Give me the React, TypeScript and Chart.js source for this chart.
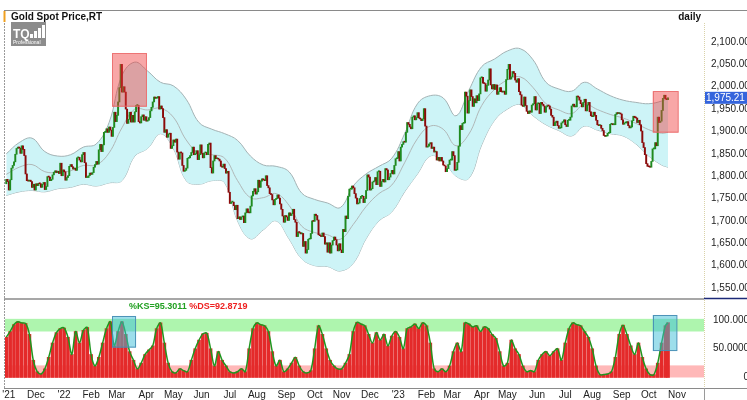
import { useEffect, useRef } from "react";
import { Chart, registerables } from "chart.js";

Chart.register(...registerables);

// ---------- data ----------
const monthLabels = ["'21", "Dec", "'22", "Feb", "Mar", "Apr", "May", "Jun", "Jul", "Aug", "Sep", "Oct", "Nov", "Dec", "'23", "Feb", "Mar", "Apr", "May", "Jun", "Jul", "Aug", "Sep", "Oct", "Nov"];
const monthStarts = [0, 21, 43, 64, 84, 107, 128, 150, 172, 193, 216, 238, 259, 281, 303, 325, 345, 368, 388, 411, 433, 454, 477, 498, 520];

const firstOpen = 1783;
const closesNov21 = [1793, 1788, 1769, 1792, 1818, 1824, 1832, 1849, 1862, 1865, 1863, 1851, 1868, 1860, 1846, 1805, 1790, 1789, 1791, 1788, 1775];
const closesDec21 = [1782, 1769, 1783, 1779, 1784, 1783, 1775, 1782, 1786, 1770, 1777, 1799, 1798, 1790, 1793, 1803, 1809, 1812, 1808, 1811, 1806, 1829];
const closesJan22 = [1801, 1814, 1810, 1791, 1797, 1801, 1822, 1826, 1821, 1816, 1818, 1813, 1841, 1842, 1836, 1832, 1848, 1853, 1830, 1797, 1797];
const closesFeb22 = [1801, 1807, 1804, 1808, 1820, 1826, 1833, 1827, 1859, 1871, 1855, 1870, 1898, 1898, 1906, 1898, 1910, 1903, 1889, 1909];
const closesMar22 = [1943, 1922, 1936, 1966, 1998, 2050, 1988, 2000, 1988, 1950, 1918, 1927, 1943, 1921, 1936, 1921, 1944, 1958, 1958, 1922, 1919, 1933, 1937];
const closesApr22 = [1925, 1933, 1923, 1925, 1931, 1946, 1954, 1966, 1977, 1974, 1975, 1978, 1950, 1957, 1951, 1931, 1898, 1904, 1887, 1894, 1896];
const closesMay22 = [1862, 1868, 1881, 1876, 1883, 1854, 1838, 1853, 1852, 1824, 1811, 1813, 1818, 1840, 1841, 1846, 1853, 1865, 1848, 1850, 1857, 1837];
const closesJun22 = [1848, 1870, 1851, 1841, 1852, 1853, 1848, 1871, 1874, 1819, 1807, 1834, 1846, 1839, 1840, 1838, 1834, 1822, 1820, 1827, 1817, 1807];
const closesJul22 = [1811, 1764, 1739, 1742, 1742, 1734, 1725, 1735, 1705, 1709, 1703, 1709, 1711, 1696, 1718, 1727, 1719, 1718, 1733, 1756, 1766];
const closesAug22 = [1772, 1760, 1765, 1791, 1775, 1789, 1794, 1792, 1790, 1801, 1779, 1774, 1761, 1759, 1747, 1736, 1748, 1750, 1758, 1751, 1738, 1726, 1711];
const closesSep22 = [1697, 1712, 1709, 1701, 1718, 1712, 1716, 1726, 1703, 1697, 1665, 1675, 1674, 1671, 1672, 1643, 1654, 1628, 1636, 1659, 1660, 1672];
const closesOct22 = [1700, 1699, 1715, 1712, 1702, 1669, 1667, 1665, 1673, 1665, 1648, 1651, 1630, 1651, 1628, 1646, 1656, 1664, 1658, 1646, 1633];
const closesNov22 = [1649, 1635, 1629, 1681, 1676, 1711, 1705, 1755, 1771, 1771, 1778, 1774, 1761, 1751, 1738, 1740, 1750, 1755, 1755, 1741, 1750, 1768];
const closesDec22 = [1803, 1798, 1769, 1772, 1787, 1789, 1797, 1781, 1810, 1811, 1777, 1788, 1793, 1787, 1817, 1814, 1792, 1798, 1806, 1813, 1805, 1824];
const closesJan23 = [1839, 1840, 1855, 1834, 1865, 1871, 1877, 1876, 1898, 1920, 1916, 1910, 1906, 1932, 1935, 1926, 1931, 1942, 1930, 1928, 1924, 1928];
const closesFeb23 = [1951, 1912, 1865, 1867, 1872, 1875, 1862, 1865, 1854, 1855, 1836, 1842, 1834, 1842, 1834, 1825, 1823, 1810, 1817, 1826];
const closesMar23 = [1836, 1836, 1855, 1846, 1813, 1814, 1831, 1867, 1913, 1904, 1918, 1919, 1988, 1979, 1941, 1969, 1993, 1978, 1956, 1973, 1964, 1980, 1969];
const closesApr23 = [1984, 2020, 2021, 2008, 2007, 1990, 2003, 2015, 2040, 2004, 1995, 2005, 1994, 2004, 1983, 1989, 1998, 1989, 1988, 1990];
const closesMay23 = [1983, 2016, 2039, 2050, 2017, 2022, 2034, 2030, 2015, 2010, 2018, 1989, 1982, 1959, 1956, 1977, 1958, 1945, 1940, 1946, 1943, 1959, 1962];
const closesJun23 = [1978, 1948, 1962, 1963, 1940, 1965, 1961, 1957, 1943, 1955, 1958, 1957, 1950, 1936, 1932, 1913, 1920, 1923, 1913, 1907, 1908, 1919];
const closesJul23 = [1922, 1926, 1915, 1911, 1925, 1925, 1932, 1957, 1961, 1955, 1955, 1979, 1977, 1970, 1962, 1955, 1965, 1972, 1946, 1959, 1965];
const closesAug23 = [1944, 1935, 1933, 1943, 1936, 1925, 1915, 1913, 1914, 1907, 1902, 1891, 1889, 1890, 1896, 1897, 1916, 1916, 1915, 1915, 1938, 1942, 1940];
const closesSep23 = [1940, 1939, 1926, 1916, 1919, 1919, 1922, 1913, 1908, 1910, 1924, 1934, 1931, 1930, 1920, 1925, 1915, 1901, 1875, 1864, 1848];
const closesOct23 = [1828, 1822, 1821, 1820, 1833, 1861, 1861, 1875, 1868, 1932, 1920, 1923, 1947, 1974, 1981, 1973, 1971, 1975.21];

const monthlyCloses = [closesNov21, closesDec21, closesJan22, closesFeb22, closesMar22, closesApr22, closesMay22, closesJun22, closesJul22, closesAug22, closesSep22, closesOct22, closesNov22, closesDec22, closesJan23, closesFeb23, closesMar23, closesApr23, closesMay23, closesJun23, closesJul23, closesAug23, closesSep23, closesOct23];

// envelope band (read every 10 trading days)
const bandIdx = [0, 10, 20, 30, 40, 50, 60, 70, 80, 90, 100, 110, 120, 130, 140, 150, 160, 170, 180, 190, 200, 210, 220, 230, 240, 250, 260, 270, 280, 290, 300, 310, 320, 330, 340, 350, 360, 370, 380, 390, 400, 410, 420, 430, 440, 450, 460, 470, 480, 490, 500, 510, 515];
const bandUpper = [1850, 1875, 1885, 1855, 1845, 1848, 1865, 1872, 1920, 2025, 2055, 2035, 2010, 2002, 1972, 1920, 1905, 1895, 1880, 1845, 1825, 1822, 1810, 1762, 1748, 1740, 1730, 1778, 1805, 1822, 1840, 1895, 1962, 1980, 1975, 1935, 1992, 2045, 2062, 2080, 2085, 2060, 2010, 1995, 1990, 2010, 1995, 1980, 1970, 1965, 1962, 1968, 1975];
const bandLower = [1757, 1765, 1768, 1765, 1772, 1775, 1782, 1778, 1785, 1790, 1845, 1862, 1895, 1862, 1790, 1782, 1790, 1785, 1700, 1660, 1680, 1700, 1660, 1615, 1600, 1598, 1588, 1605, 1660, 1700, 1720, 1765, 1805, 1845, 1835, 1800, 1795, 1870, 1925, 1950, 1960, 1935, 1915, 1902, 1890, 1912, 1903, 1895, 1890, 1872, 1845, 1825, 1820];
const bandMiddle = [1804, 1820, 1826, 1810, 1808, 1812, 1824, 1825, 1852, 1908, 1950, 1948, 1952, 1932, 1881, 1851, 1848, 1840, 1790, 1752, 1752, 1761, 1735, 1688, 1674, 1669, 1659, 1692, 1732, 1761, 1780, 1830, 1884, 1912, 1905, 1868, 1894, 1958, 1994, 2015, 2022, 1998, 1962, 1948, 1940, 1961, 1949, 1938, 1930, 1918, 1904, 1896, 1898];

// slow stochastic (read every 3 trading days)
const stochValues = [
  70, 80, 92, 97, 95, 94, 75, 30, 10, 6,
  15, 35, 60, 78, 85, 86, 70, 40, 80, 60,
  82, 87, 40, 20, 35, 60, 85, 97, 55, 80,
  97, 75, 45, 30, 15, 25, 40, 48, 55, 85,
  95, 60, 25, 10, 8, 15, 12, 10, 30, 50,
  65, 76, 77, 50, 20, 45, 30, 20, 10, 8,
  10, 15, 10, 50, 85, 95, 92, 90, 80, 45,
  20, 30, 10, 15, 25, 35, 20, 10, 8, 12,
  50, 90, 75, 50, 30, 20, 15, 15, 25, 40,
  80, 96, 93, 90, 75, 60, 78, 65, 75, 55,
  72, 80, 70, 50, 85, 88, 93, 85, 95, 90,
  60, 15, 10, 15, 10, 20, 45, 60, 45, 95,
  93, 88, 90, 80, 88, 85, 75, 68, 45, 20,
  25, 65, 50, 40, 20, 10, 12, 10, 30, 40,
  45, 38, 45, 50, 30, 60, 85, 95, 92, 90,
  80, 70, 50, 20, 5, 5, 6, 10, 35, 75,
  91, 75, 55, 40, 60, 35, 15, 5, 5, 25,
  60, 90, 95.3,
];
const stochStep = 3;

const priceTicks = [1550, 1600, 1650, 1700, 1750, 1800, 1850, 1900, 1950, 2000, 2050, 2100];
const stochTicks = [0, 50, 100];
const stochHighZone = [80, 102];
const stochLowZone = [0, 21];
const lastPrice = 1975.21;
const kText = "%KS=95.3011";
const dText = "%DS=92.8719";

const priceBoxes = [
  { from: 82.3, to: 109.5, low: 1955, high: 2075 },
  { from: 503, to: 523, low: 1897, high: 1990 },
];
const stochBoxes = [
  { from: 82.3, to: 101, low: 52, high: 107 },
  { from: 503, to: 522, low: 46, high: 108.7 },
];

const FONT = "'Liberation Sans', Arial, sans-serif";
const UP = "#1f8a1f";
const DOWN = "#8b0a0a";

const decor = {
  id: "decor",
  beforeDatasetsDraw(chart: any) {
    const { ctx, chartArea: a, scales } = chart;
    const y2 = scales.y2;
    ctx.save();
    const zone = (lo: number, hi: number, color: string) => {
      const t = y2.getPixelForValue(hi);
      const b = y2.getPixelForValue(lo);
      ctx.fillStyle = color;
      ctx.fillRect(a.left, t, a.right - a.left, b - t);
    };
    zone(stochHighZone[0], stochHighZone[1], "#aef5ae");
    zone(stochLowZone[0], stochLowZone[1], "#ffb8b8");
    ctx.restore();
  },
  afterDatasetsDraw(chart: any) {
    const { ctx, scales } = chart;
    const xs = scales.x;
    ctx.save();
    const box = (ys: any, b: any, fill: string, stroke: string) => {
      const l = xs.getPixelForValue(b.from);
      const r = xs.getPixelForValue(b.to);
      const t = ys.getPixelForValue(b.high);
      const bt = ys.getPixelForValue(b.low);
      ctx.fillStyle = fill;
      ctx.fillRect(l, t, r - l, bt - t);
      ctx.strokeStyle = stroke;
      ctx.lineWidth = 1;
      ctx.strokeRect(Math.round(l) + 0.5, Math.round(t) + 0.5, r - l - 1, bt - t - 1);
    };
    priceBoxes.forEach((b) => box(scales.y, b, "rgba(240,60,60,0.45)", "rgba(235,110,110,0.9)"));
    stochBoxes.forEach((b) => box(scales.y2, b, "rgba(60,190,215,0.5)", "rgba(70,140,180,0.9)"));
    ctx.restore();
  },
  afterDraw(chart: any) {
    const { ctx, chartArea: a, scales } = chart;
    ctx.save();
    const line = (x1: number, y1: number, x2: number, y2: number, color: string, w = 1, dash: number[] = []) => {
      ctx.beginPath();
      ctx.setLineDash(dash);
      ctx.strokeStyle = color;
      ctx.lineWidth = w;
      ctx.moveTo(x1, y1);
      ctx.lineTo(x2, y2);
      ctx.stroke();
      ctx.setLineDash([]);
    };
    const sep = scales.y.bottom;
    line(4, 10.5, 760, 10.5, "#8a8a8a");
    line(4.5, 11, 4.5, a.bottom, "#9a9a9a", 1, [2, 1]);
    line(4.5, 11, 4.5, 22, "#f0a020", 2);
    line(4, sep, a.right, sep, "#8a8a8a", 1.5);
    line(a.right + 0.5, 23, a.right + 0.5, sep - 1, "#d9d2a8", 1, [1, 1]);
    line(a.right + 0.5, sep + 1, a.right + 0.5, a.bottom, "#d9d2a8", 1, [1, 1]);
    line(a.right, sep - 0.5, 760, sep - 0.5, "#1c2a78", 1.5);
    line(4, a.bottom + 0.5, 760, a.bottom + 0.5, "#8a8a8a");
    line(a.right + 0.5, a.bottom, a.right + 0.5, 400, "#9a9a9a");

    // header texts
    ctx.fillStyle = "#111";
    ctx.font = `bold 10px ${FONT}`;
    ctx.textBaseline = "alphabetic";
    ctx.textAlign = "left";
    ctx.fillText("Gold Spot Price,RT", 11, 20);
    ctx.textAlign = "right";
    ctx.fillText("daily", 701, 20);

    // logo
    ctx.fillStyle = "#8c8c8c";
    ctx.fillRect(11, 22, 35, 24);
    ctx.fillStyle = "#ffffff";
    ctx.textAlign = "left";
    ctx.font = `bold 12px ${FONT}`;
    ctx.fillText("TQ", 13, 38);
    ctx.fillRect(30, 34, 3, 4);
    ctx.fillRect(34, 31, 3, 7);
    ctx.fillRect(38, 28, 3, 10);
    ctx.fillRect(42, 25, 3, 13);
    ctx.font = `5px ${FONT}`;
    ctx.fillText("Professional", 13, 44);

    // last price tag
    const py = scales.y.getPixelForValue(lastPrice);
    ctx.fillStyle = "#3464dc";
    ctx.fillRect(a.right + 1, py - 6, 60, 12);
    ctx.fillStyle = "#ffffff";
    ctx.font = `10px ${FONT}`;
    ctx.textBaseline = "middle";
    ctx.fillText(lastPrice.toLocaleString("en-US", { minimumFractionDigits: 2 }), a.right + 2, py + 0.5);

    // stochastic legend
    ctx.textBaseline = "alphabetic";
    ctx.font = `bold 9px ${FONT}`;
    ctx.fillStyle = "#22a022";
    ctx.fillText(kText, 129, 309);
    const kw = ctx.measureText(kText + " ").width;
    ctx.fillStyle = "#ee2020";
    ctx.fillText(dText, 129 + kw, 309);
    ctx.restore();
  },
};

export default function App() {
  const ref = useRef<HTMLCanvasElement>(null);
  useEffect(() => {
    const closes = monthlyCloses.flat();
    const opens = closes.map((c, i) => (i === 0 ? firstOpen : closes[i - 1]));
    const candleData = closes.map((c, i) => ({ x: i, y: [opens[i], c] }));
    const candleColors = closes.map((c, i) => (c >= opens[i] ? UP : DOWN));
    const lastIdx = closes.length - 1;
    const stochData = stochValues.map((v, i) => ({ x: Math.min(i * stochStep, lastIdx), y: v }));
    const band = (arr: number[]) => bandIdx.map((x, i) => ({ x, y: arr[i] }));

    const chart = new Chart(ref.current!, {
      type: "bar",
      data: {
        datasets: [
          {
            type: "bar",
            data: candleData as any,
            backgroundColor: candleColors,
            borderWidth: 0,
            barThickness: 1.3,
            minBarLength: 1,
            grouped: false,
            xAxisID: "x",
            yAxisID: "y",
            order: 1,
          } as any,
          {
            type: "line",
            data: band(bandUpper),
            borderColor: "#a3b2b4",
            borderWidth: 1,
            pointRadius: 0,
            tension: 0.4,
            fill: "+1",
            backgroundColor: "#cdf4f7",
            yAxisID: "y",
            order: 4,
          },
          {
            type: "line",
            data: band(bandLower),
            borderColor: "#a3b2b4",
            borderWidth: 1,
            pointRadius: 0,
            tension: 0.4,
            fill: false,
            yAxisID: "y",
            order: 4,
          },
          {
            type: "line",
            data: band(bandMiddle),
            borderColor: "#b0b8b8",
            borderWidth: 1,
            pointRadius: 0,
            tension: 0.4,
            fill: false,
            yAxisID: "y",
            order: 3,
          },
          {
            type: "bar",
            data: stochData as any,
            backgroundColor: "#e42a2a",
            borderWidth: 0,
            barThickness: 3,
            grouped: false,
            yAxisID: "y2",
            order: 2,
          } as any,
          {
            type: "line",
            data: stochData,
            borderColor: "#1f961f",
            borderWidth: 1.5,
            pointRadius: 0,
            tension: 0.3,
            fill: false,
            yAxisID: "y2",
            order: 1,
          },
        ],
      },
      options: {
        responsive: false,
        devicePixelRatio: 1,
        animation: false,
        events: [],
        layout: { padding: { left: 5, top: 11, right: 0, bottom: 0 } },
        plugins: { legend: { display: false }, tooltip: { enabled: false } },
        scales: {
          x: {
            type: "linear",
            position: "bottom",
            min: -1,
            max: 543,
            offset: false,
            grid: { display: false, drawTicks: false, offset: false },
            border: { display: false },
            afterBuildTicks: (s: any) => {
              s.ticks = monthStarts.map((v) => ({ value: v + 2 }));
            },
            afterFit: (s: any) => {
              s.height = 12;
              s.paddingLeft = 0;
              s.paddingRight = 0;
            },
            ticks: {
              autoSkip: false,
              maxRotation: 0,
              minRotation: 0,
              padding: 1,
              color: "#222",
              font: { family: FONT, size: 10 },
              callback: (_v: any, i: number) => monthLabels[i],
            },
          },
          y: {
            type: "linear",
            position: "right",
            stack: "panels",
            stackWeight: 288,
            min: 1525.4,
            max: 2169.3,
            offset: false,
            grid: { display: false, drawTicks: false },
            border: { display: false },
            afterBuildTicks: (s: any) => {
              s.ticks = priceTicks.map((v) => ({ value: v }));
            },
            afterFit: (s: any) => {
              s.width = 66;
              s.paddingTop = 0;
              s.paddingBottom = 0;
            },
            ticks: {
              autoSkip: false,
              crossAlign: "near",
              padding: 7,
              color: "#222",
              font: { family: FONT, size: 10 },
              callback: (v: any) => Number(v).toLocaleString("en-US", { minimumFractionDigits: 2, maximumFractionDigits: 2 }),
            },
          },
          y2: {
            type: "linear",
            position: "right",
            stack: "panels",
            stackWeight: 89,
            min: -18.3,
            max: 136.5,
            offset: false,
            grid: { display: false, drawTicks: false },
            border: { display: false },
            afterBuildTicks: (s: any) => {
              s.ticks = stochTicks.map((v) => ({ value: v }));
            },
            afterFit: (s: any) => {
              s.width = 66;
              s.paddingTop = 0;
              s.paddingBottom = 0;
            },
            ticks: {
              autoSkip: false,
              crossAlign: "near",
              padding: 9,
              color: "#222",
              font: { family: FONT, size: 10 },
              callback: (v: any) => (Number(v) === 0 ? "           0" : Number(v).toFixed(4)),
            },
          },
        },
      } as any,
      plugins: [decor],
    });
    return () => chart.destroy();
  }, []);

  return (
    <div style={{ position: "fixed", left: 0, top: 0, width: 747, height: 400, overflow: "hidden", background: "#fff" }}>
      <canvas ref={ref} width={770} height={400} style={{ display: "block", width: 770, height: 400 }} />
    </div>
  );
}
